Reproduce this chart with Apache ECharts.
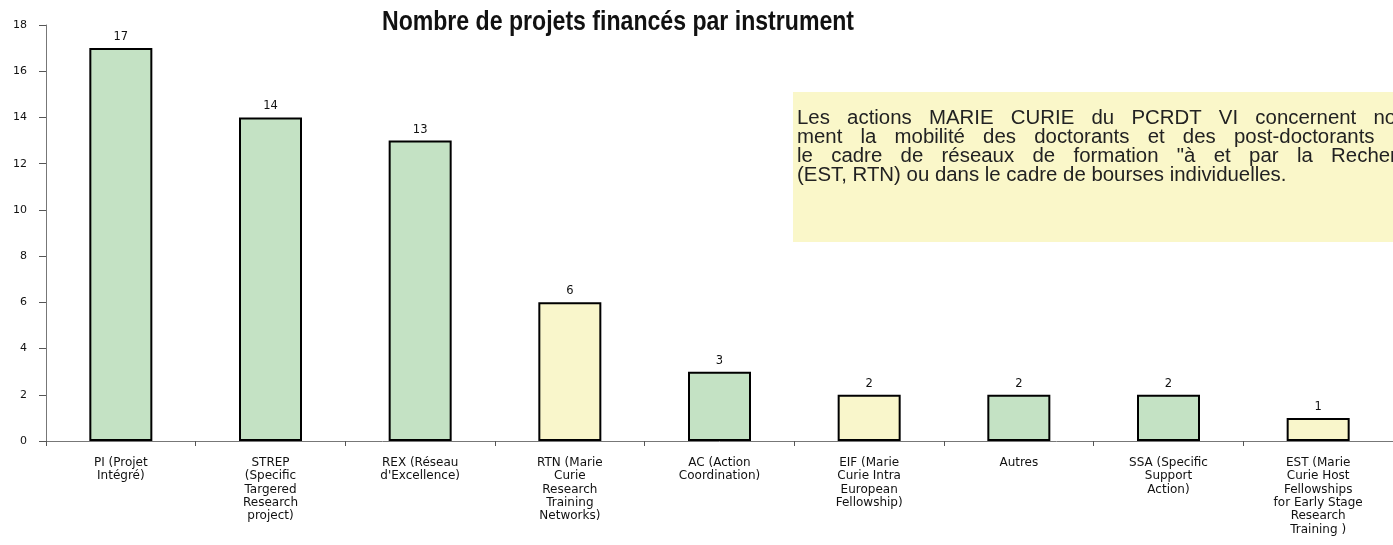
<!DOCTYPE html>
<html><head><meta charset="utf-8">
<script src="https://cdn.jsdelivr.net/npm/echarts@6/dist/echarts.min.js"></script>
<style>html,body{margin:0;padding:0;background:#fff}#c{width:1393px;height:545px}</style>
</head><body><div id="c"></div>
<script>
const categories = [
  "PI (Projet\nIntégré)",
  "STREP\n(Specific\nTargered\nResearch\nproject)",
  "REX (Réseau\nd'Excellence)",
  "RTN (Marie\nCurie\nResearch\nTraining\nNetworks)",
  "AC (Action\nCoordination)",
  "EIF (Marie\nCurie Intra\nEuropean\nFellowship)",
  "Autres",
  "SSA (Specific\nSupport\nAction)",
  "EST (Marie\nCurie Host\nFellowships\nfor Early Stage\nResearch\nTraining )"
];
const values = [17, 14, 13, 6, 3, 2, 2, 2, 1];
const isMarieCurie = [false, false, false, true, false, true, false, false, true];
const yTicks = [0, 2, 4, 6, 8, 10, 12, 14, 16, 18];
const titleText = "Nombre de projets financés par instrument";
const noteLines = [
  "Les actions MARIE CURIE du PCRDT VI concernent notam-",
  "ment la mobilité des doctorants et des post-doctorants dans",
  "le cadre de réseaux de formation \"à et par la Recherche\"",
  "(EST, RTN) ou dans le cadre de bourses individuelles."
];

const GREEN = '#C4E2C4', YELLOW = '#F9F6CB';
const chart = echarts.init(document.getElementById('c'), null, {renderer: 'canvas'});

const NOTE_FONT = '20px "Liberation Sans", Arial';
const SX = 1.02;
const mctx = document.createElement('canvas').getContext('2d');
mctx.font = NOTE_FONT;
const wordW = w => mctx.measureText(w).width * SX;
const spaceW = wordW(' ');
const justifyWidth = 640;

const noteGraphics = [];
noteGraphics.push({type: 'rect', shape: {x: 793, y: 92, width: 620, height: 150}, style: {fill: '#FAF7C9'}, z: 5});
noteLines.forEach((line, i) => {
  const y = 118 + i * 19.3;
  const words = line.split(' ');
  const total = words.reduce((s, w) => s + wordW(w), 0);
  const gap = (i === noteLines.length - 1) ? spaceW : (justifyWidth - total) / (words.length - 1);
  let x = 797;
  words.forEach(w => {
    noteGraphics.push({type: 'text', x: x, y: y, scaleX: SX, z: 6,
      style: {text: w, font: NOTE_FONT, fill: '#222', textVerticalAlign: 'middle'}});
    x += wordW(w) + gap;
  });
});

chart.setOption({
  animation: false,
  backgroundColor: '#fff',
  grid: {left: 46, top: 25, width: 1351, bottom: 104, containLabel: false},
  xAxis: {
    type: 'category', data: categories,
    axisLine: {lineStyle: {color: '#777', width: 1}},
    axisTick: {show: true, alignWithLabel: false, length: 5, lineStyle: {color: '#555'}},
    axisLabel: {interval: 0, color: '#111', fontFamily: '"DejaVu Sans", Arial', fontSize: 12, lineHeight: 13.4, margin: 15, align: 'center'}
  },
  yAxis: {
    type: 'value', min: 0, max: 18, interval: 2,
    splitLine: {show: false},
    axisLine: {show: true, lineStyle: {color: '#777'}},
    axisTick: {show: true, length: 7, lineStyle: {color: '#555'}},
    axisLabel: {color: '#111', fontFamily: '"DejaVu Sans", Arial', fontSize: 11, margin: 19,
      formatter: v => yTicks.includes(v) ? String(v) : ''}
  },
  series: [{
    type: 'bar', barWidth: 63,
    data: values.map((v, i) => ({value: v, itemStyle: {color: isMarieCurie[i] ? YELLOW : GREEN}})),
    itemStyle: {borderColor: '#000', borderWidth: 2},
    label: {show: true, position: 'top', distance: 5, color: '#111', fontFamily: '"DejaVu Sans", Arial', fontSize: 11.5}
  }],
  graphic: [
    {type: 'text', x: 618, y: 23, scaleX: 0.855, z: 10,
      style: {text: titleText, font: 'bold 27px "Liberation Sans", Arial', fill: '#111', textAlign: 'center', textVerticalAlign: 'middle'}},
    ...noteGraphics
  ]
});
</script></body></html>
